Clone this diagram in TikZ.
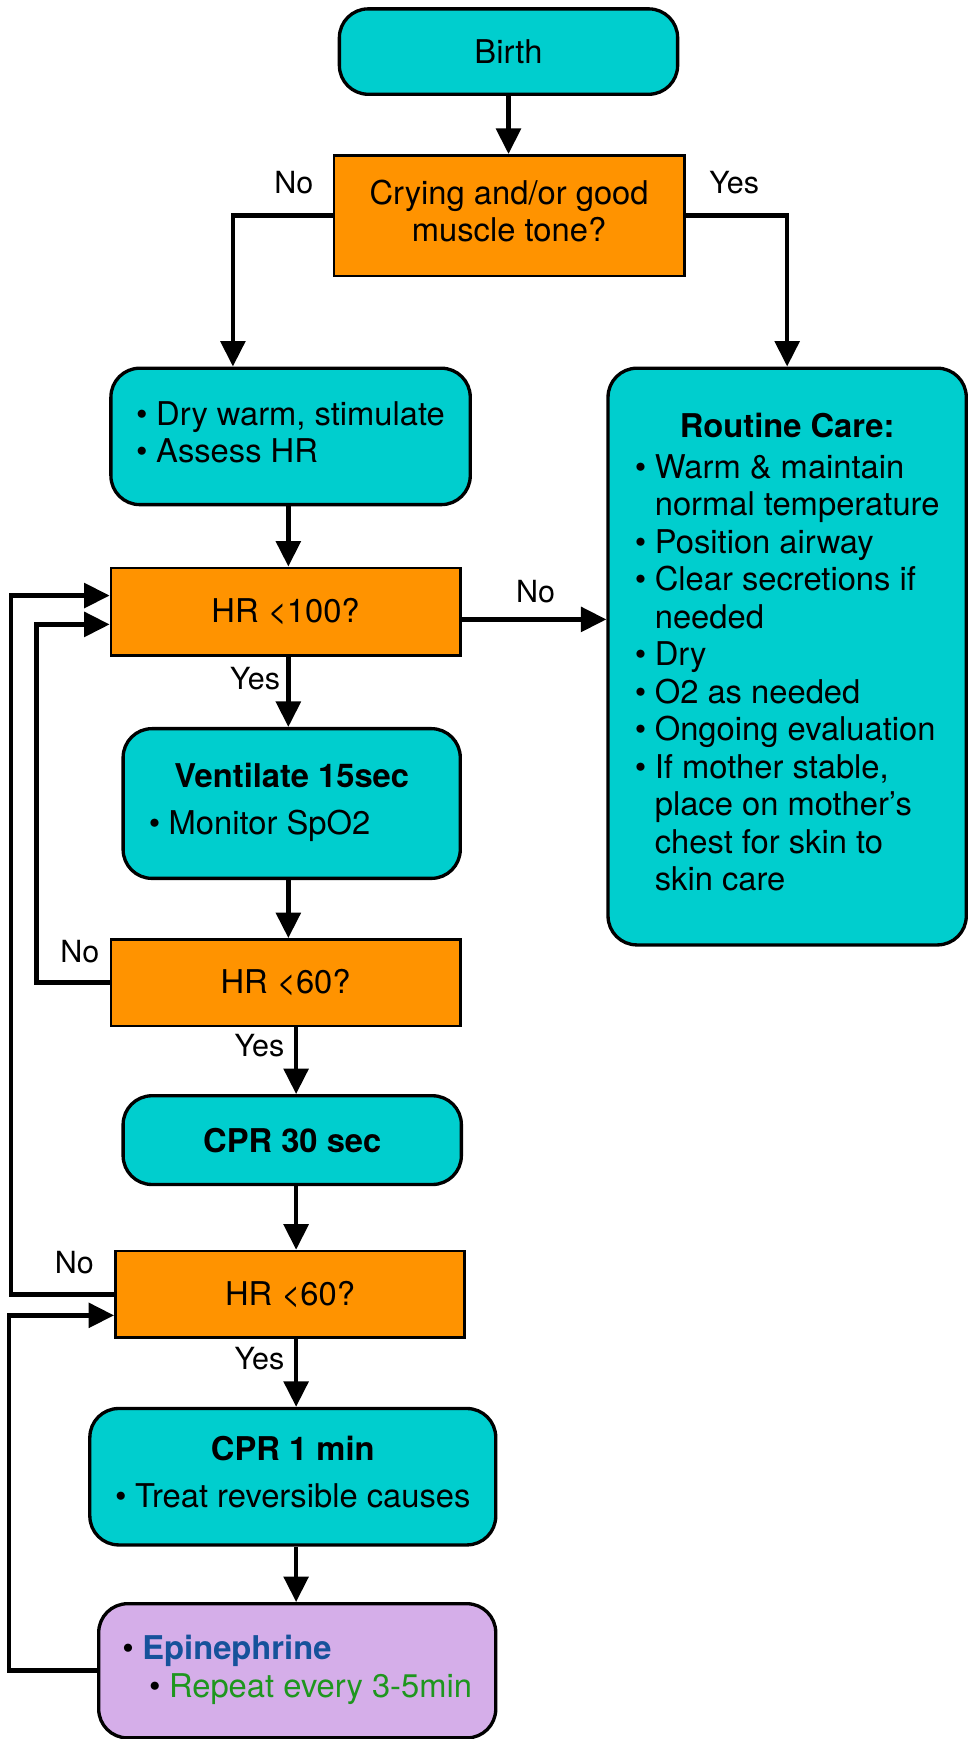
\documentclass[tikz,border=0pt]{standalone}
\usepackage{fontspec}
\setmainfont{TeX Gyre Heros}
\usetikzlibrary{arrows.meta}
\definecolor{teal1}{RGB}{0,206,206}
\definecolor{orng}{RGB}{255,147,0}
\definecolor{lav}{RGB}{213,174,233}
\definecolor{epiblue}{RGB}{22,82,155}
\definecolor{epigreen}{RGB}{30,150,30}
\newcommand{\bul}{\makebox[18pt][l]{•}}
\newcommand{\ind}{\hspace*{18pt}}
\begin{document}
\begin{tikzpicture}[x=1pt,y=-1pt,
  every node/.style={font=\fontsize{29.5}{33.8}\selectfont},
  tbox/.style={draw, line width=3pt, fill=teal1, rounded corners=26pt, inner sep=0pt},
  qbox/.style={draw, line width=2.3pt, fill=orng, inner sep=0pt},
  arr/.style={line width=4.2pt, -{Triangle[length=23pt,width=22pt]}},
  lbl/.style={font=\fontsize{27.5}{32}\selectfont, inner sep=0pt}]
\useasboundingbox (0,0) rectangle (873,1568);

\node[tbox, minimum width=305pt, minimum height=77pt] (birth) at (458.5,46.5) {Birth};
\node[qbox, minimum width=316pt, minimum height=109pt] (dec) at (459,194.5)
  {\begin{tabular}{@{}c@{}}Crying and/or good\\ muscle tone?\end{tabular}};
\node[tbox, minimum width=324pt, minimum height=123pt] (dry) at (262,393.5)
  {\begin{tabular}{@{}l@{}}\bul Dry warm, stimulate\\ \bul Assess HR\end{tabular}};
\node[tbox, minimum width=323pt, minimum height=520pt] (rc) at (709.75,592)
  {\begin{tabular}{@{}l@{}}
   \multicolumn{1}{@{}c@{}}{\bfseries Routine Care:}\\[3pt]
   \bul Warm \& maintain\\
   \ind normal temperature\\
   \bul Position airway\\
   \bul Clear secretions if\\
   \ind needed\\
   \bul Dry\\
   \bul O2 as needed\\
   \bul Ongoing evaluation\\
   \bul If mother stable,\\
   \ind place on mother’s\\
   \ind chest for skin to\\
   \ind skin care
  \end{tabular}};
\node[qbox, minimum width=315pt, minimum height=79pt] (h100) at (257.5,551.5) {HR <100?};
\node[tbox, minimum width=304pt, minimum height=135pt] (vent) at (263,724.5)
  {\begin{tabular}{@{}l@{}}
   \multicolumn{1}{@{}c@{}}{\bfseries Ventilate 15sec}\\[9pt]
   \bul Monitor SpO2\hspace*{58pt}
  \end{tabular}};
\node[qbox, minimum width=315pt, minimum height=78pt] (h60a) at (257.5,886) {HR <60?};
\node[tbox, minimum width=305pt, minimum height=80pt] (cpr30) at (263.5,1028) {\bfseries CPR 30 sec};
\node[qbox, minimum width=315pt, minimum height=78pt] (h60b) at (261.5,1167) {HR <60?};
\node[tbox, minimum width=366pt, minimum height=123pt] (cpr1) at (264,1331.5)
  {\begin{tabular}{@{}l@{}}
   \multicolumn{1}{@{}c@{}}{\bfseries CPR 1 min}\\[9pt]
   \bul Treat reversible causes
  \end{tabular}};
\node[tbox, fill=lav, minimum width=358pt, minimum height=121pt] (epi) at (268,1506.5)
  {\begin{tabular}{@{}l@{}}
   \bul{\color{epiblue}\bfseries Epinephrine}\\
   \hspace*{24pt}\bul{\color{epigreen}Repeat every 3-5min}
  \end{tabular}};

% labels
\node[lbl] (lno1) at (265,165) {No};
\node[lbl] (lyes1) at (662,165) {Yes};
\node[lbl] (lno2) at (483,533) {No};
\node[lbl] (lyes2) at (230,612) {Yes};
\node[lbl] (lno3) at (72,858) {No};
\node[lbl] (lyes3) at (234,943) {Yes};
\node[lbl] (lno4) at (67,1138) {No};
\node[lbl] (lyes4) at (234,1225) {Yes};

% connectors
\draw[arr] (birth.south) -- (birth.south |- dec.north);
\draw[arr] (dec.west) -| ([xshift=-52pt]dry.north);
\draw[arr] (dec.east) -| (rc.north);
\draw[arr] ([xshift=-2pt]dry.south) -- ([xshift=-2pt]dry.south |- h100.north);
\draw[arr] ([yshift=-7pt]h100.east) -- ([yshift=-7pt]h100.east -| rc.west);
\draw[arr] ([xshift=2.5pt]h100.south) -- ([xshift=2.5pt]h100.south |- vent.north);
\draw[arr] ([xshift=-3pt]vent.south) -- ([xshift=-3pt]vent.south |- h60a.north);
\draw[arr] (h60a.west) -| (33,700) |- ([yshift=-11.5pt]h100.west);
\draw[arr] ([xshift=9.5pt]h60a.south) -- ([xshift=9.5pt]h60a.south |- cpr30.north);
\draw[arr] ([xshift=3.5pt]cpr30.south) -- ([xshift=3.5pt]cpr30.south |- h60b.north);
\draw[arr] (h60b.west) -| (10,800) |- ([yshift=14.5pt]h100.west);
\draw[arr] ([xshift=5.5pt]h60b.south) -- ([xshift=5.5pt]h60b.south |- cpr1.north);
\draw[arr] ([xshift=3pt]cpr1.south) -- ([xshift=3pt]cpr1.south |- epi.north);
\draw[arr] (epi.west) -| (8,1300) |- ([yshift=-19pt]h60b.west);
\end{tikzpicture}
\end{document}
